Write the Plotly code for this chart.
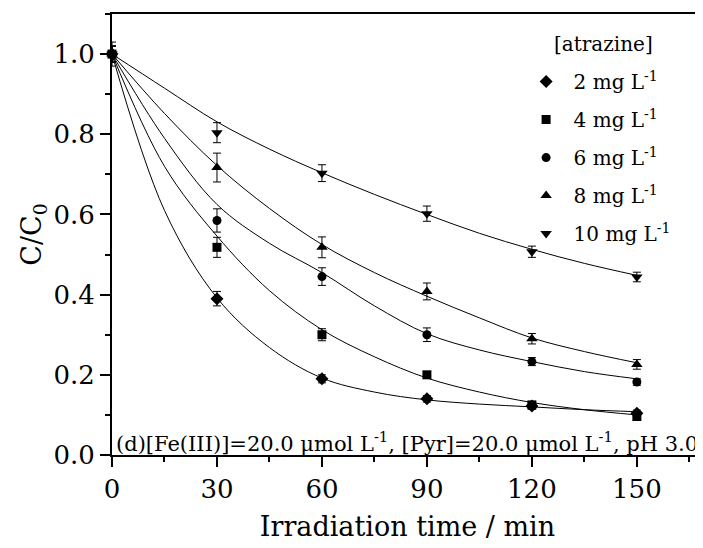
import plotly.graph_objects as go

# irradiation time (min)
t = [0, 30, 60, 90, 120, 150]

# C/C0 for each initial atrazine concentration
c2 = [1.0, 0.39, 0.19, 0.14, 0.122, 0.104]
c4 = [1.0, 0.518, 0.30, 0.20, 0.125, 0.096]
c6 = [1.0, 0.585, 0.445, 0.30, 0.233, 0.182]
c8 = [1.0, 0.717, 0.518, 0.408, 0.29, 0.226]
c10 = [1.0, 0.804, 0.703, 0.602, 0.507, 0.444]

# error bars
e2 = [0.02, 0.018, 0.01, 0.008, 0.008, 0.008]
e4 = [0.02, 0.025, 0.015, 0.008, 0.008, 0.008]
e6 = [0.02, 0.029, 0.022, 0.017, 0.01, 0.008]
e8 = [0.02, 0.036, 0.026, 0.021, 0.013, 0.012]
e10 = [0.03, 0.025, 0.021, 0.019, 0.014, 0.012]

# fitted curves
t_fit = [0, 15, 30, 45, 60, 75, 90, 105, 120, 135, 150]
f2 = [1.0, 0.61, 0.392, 0.268, 0.192, 0.157, 0.1375, 0.127, 0.12, 0.113, 0.108]
f4 = [1.0, 0.72, 0.546, 0.41, 0.3125, 0.245, 0.192, 0.157, 0.131, 0.113, 0.10]
f6 = [1.0, 0.79, 0.625, 0.528, 0.455, 0.372, 0.3025, 0.262, 0.233, 0.208, 0.19]
f8 = [1.0, 0.852, 0.722, 0.615, 0.525, 0.455, 0.396, 0.342, 0.292, 0.258, 0.23]
f10 = [1.0, 0.915, 0.831, 0.763, 0.704, 0.65, 0.60, 0.553, 0.513, 0.478, 0.448]

names = ['2 mg L<sup>-1</sup>', '4 mg L<sup>-1</sup>', '6 mg L<sup>-1</sup>',
         '8 mg L<sup>-1</sup>', '10 mg L<sup>-1</sup>']
series = [c2, c4, c6, c8, c10]
errors = [e2, e4, e6, e8, e10]
fits = [f2, f4, f6, f8, f10]
symbols = ['diamond', 'square', 'circle', 'triangle-up', 'triangle-down']
sizes = [10, 9, 9, 10, 10]

# only serif face the renderer actually resolves
FONT = 'DejaVu Serif'

fig = go.Figure()

for f in fits:
    fig.add_trace(go.Scatter(
        x=t_fit, y=f, mode='lines',
        line=dict(color='black', width=1, shape='spline', smoothing=1.0),
        showlegend=False, hoverinfo='skip'
    ))

for i, (name, y, e, sym, s) in enumerate(zip(names, series, errors, symbols, sizes)):
    fig.add_trace(go.Scatter(
        x=t, y=y, mode='markers', name=name, legendgroup=str(i),
        marker=dict(symbol=sym, size=s, color='black'),
        error_y=dict(type='data', array=e, visible=True,
                     color='black', thickness=1, width=4),
        cliponaxis=False
    ))

fig.add_annotation(
    x=0.003, xref='paper', y=0, yref='y',
    xanchor='left', yanchor='bottom', showarrow=False, yshift=-3,
    text='(d)[Fe(III)]=20.0 \u03bcmol L<sup>-1</sup>, [Pyr]=20.0 \u03bcmol L<sup>-1</sup>, pH 3.0',
    font=dict(family=FONT, size=21, color='black'),
)
fig.add_annotation(
    x=0.831, xref='paper', y=0.932, yref='paper',
    xanchor='center', yanchor='middle', showarrow=False,
    text='[atrazine]',
    font=dict(family=FONT, size=20, color='black'),
)

fig.update_xaxes(
    range=[0, 168.9], tickvals=[0, 30, 60, 90, 120, 150],
    ticks='outside', ticklen=10, tickwidth=1.5, tickcolor='black',
    minor=dict(dtick=15, tick0=0, ticks='outside', ticklen=5, tickwidth=1.5, tickcolor='black'),
    showline=True, linecolor='black', linewidth=2, mirror=True,
    showgrid=False, zeroline=False,
    tickfont=dict(family=FONT, size=26, color='black'),
    title=dict(text='Irradiation time / min', font=dict(family=FONT, size=27, color='black'),
               standoff=14),
)
fig.update_yaxes(
    range=[0, 1.1], tickvals=[0, 0.2, 0.4, 0.6, 0.8, 1.0], tickformat='.1f',
    ticks='outside', ticklen=10, tickwidth=1.5, tickcolor='black',
    minor=dict(dtick=0.1, tick0=0, ticks='outside', ticklen=5, tickwidth=1.5, tickcolor='black'),
    showline=True, linecolor='black', linewidth=2, mirror=False,
    showgrid=False, zeroline=False,
    tickfont=dict(family=FONT, size=26, color='black'),
    title=dict(text='C/C<sub>0</sub>', font=dict(family=FONT, size=27, color='black'),
               standoff=4),
)

# the page adds an 8px body margin, so the figure is 8px smaller
fig.update_layout(
    width=695, height=540,
    margin=dict(l=104, r=0, t=6, b=93),
    plot_bgcolor='white', paper_bgcolor='white',
    font=dict(family=FONT, color='black'),
    legend=dict(
        x=0.688, y=0.891, xanchor='left', yanchor='top',
        bgcolor='rgba(0,0,0,0)', itemwidth=45, tracegroupgap=9,
        font=dict(family=FONT, size=20, color='black'),
    ),
)

fig.write_html('out.html')
